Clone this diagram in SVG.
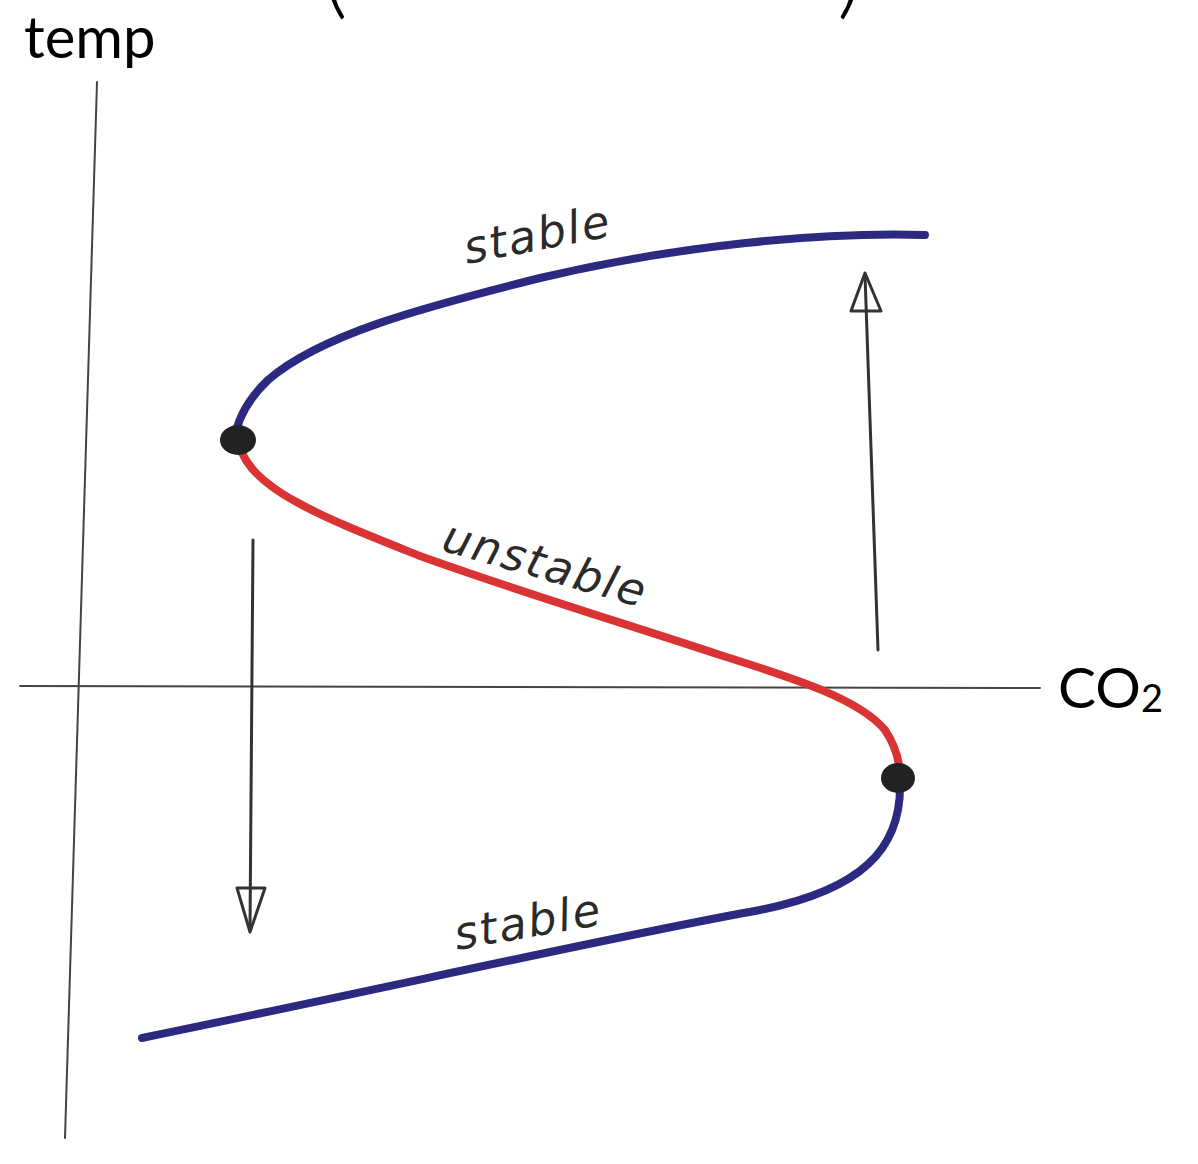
<svg xmlns="http://www.w3.org/2000/svg" width="1198" height="1164" viewBox="0 0 1198 1164">
<style>
.axis{fill:none;stroke:#444;stroke-width:2;stroke-linecap:round}
.stab{fill:none;stroke:#2b2a80;stroke-width:8;stroke-linecap:round;stroke-linejoin:round}
.unst{fill:none;stroke:#d93333;stroke-width:8;stroke-linecap:round;stroke-linejoin:round}
.arr{fill:none;stroke:#333;stroke-width:3;stroke-linecap:round;stroke-linejoin:round}
.dot{fill:#222}
.hand{font-family:"DejaVu Sans",sans-serif;font-style:oblique;font-size:45px;fill:#2a2a2a;letter-spacing:2px}
.lab{font-family:"Lato","Open Sans",sans-serif;fill:#000}
</style>
<rect width="1198" height="1164" fill="#fff"/>
<g id="parens">
<text class="lab" x="322" y="6" font-size="100" font-weight="300">(</text>
<text class="lab" x="837" y="6" font-size="100" font-weight="300">)</text>
</g>
<g id="axes">
<path class="axis" d="M97 82 Q80 600 65 1138"/>
<path class="axis" d="M20 686 L1040 688"/>
<text class="lab" x="24" y="58" font-size="58">temp</text>
<text class="lab" x="1058" y="708" font-size="57">CO<tspan font-size="38" dy="4">2</tspan></text>
</g>
<g id="connectors">
<path id="upper-stable" class="stab" d="M925 235 C820 232 680 245 540 278 C420 308 320 335 268 380 C245 402 236 425 234 442"/>
<path id="unstable" class="unst" d="M240 446 C250 490 330 520 420 556 C520 592 620 622 720 655 C800 680 860 700 885 730 C897 748 900 765 900 778"/>
<path id="lower-stable" class="stab" d="M900 782 C902 850 860 890 760 910 C620 935 400 985 142 1038"/>
<g id="arrow-up">
<path class="arr" d="M878 650 L865 275"/>
<path class="arr" d="M865 273 L851 311 L881 311 Z"/>
</g>
<g id="arrow-down">
<path class="arr" d="M253 540 L250 930"/>
<path class="arr" d="M250 932 L237 888 L265 888 Z"/>
</g>
</g>
<g id="dots">
<ellipse class="dot" cx="238" cy="440" rx="18" ry="15"/>
<ellipse class="dot" cx="898" cy="778" rx="17" ry="15"/>
</g>
<g id="labels">
<text class="hand" x="467" y="264" transform="rotate(-11 467 264)">stable</text>
<text class="hand" x="440" y="550" transform="rotate(16 440 550)" letter-spacing="8">unstable</text>
<text class="hand" x="457" y="950" transform="rotate(-10 457 950)">stable</text>
</g>
</svg>
